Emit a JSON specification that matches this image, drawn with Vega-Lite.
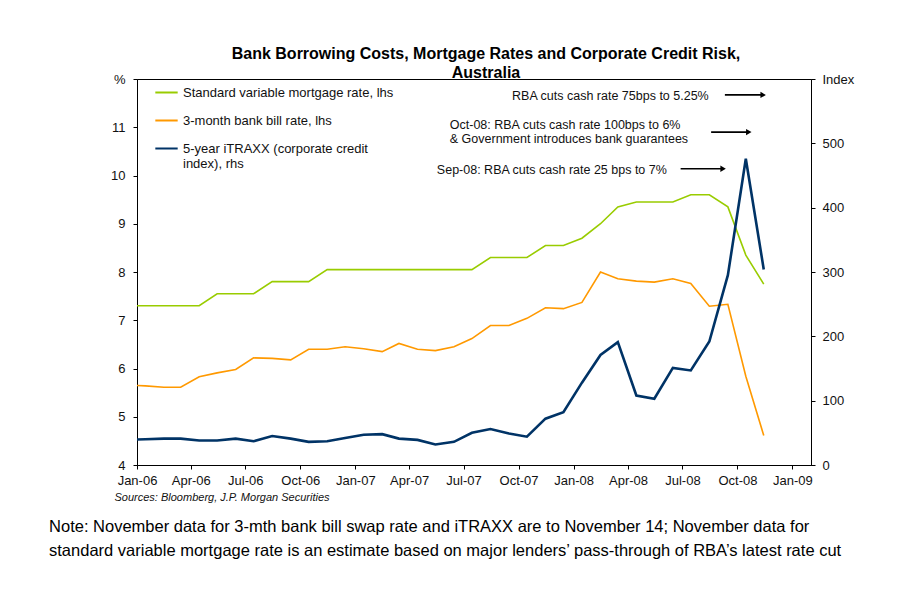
{
  "$schema": "https://vega.github.io/schema/vega-lite/v6.json",
  "padding": {"left": 49, "top": 45, "right": 40, "bottom": 5},
  "background": "white",
  "config": {
    "font": "Liberation Sans",
    "view": {"stroke": "#000", "strokeWidth": 1},
    "axis": {"grid": false, "domainColor": "#000", "tickColor": "#000", "labelColor": "#111", "labelFontSize": 13, "tickSize": 4, "labelFont": "Liberation Sans"}
  },
  "datasets": {
    "rates": [
      {"date": "2005/12/15", "svr": 7.30, "bill": 5.66, "itraxx": 39},
      {"date": "2006/01/15", "svr": 7.30, "bill": 5.64, "itraxx": 40},
      {"date": "2006/02/15", "svr": 7.30, "bill": 5.61, "itraxx": 41},
      {"date": "2006/03/15", "svr": 7.30, "bill": 5.61, "itraxx": 41},
      {"date": "2006/04/15", "svr": 7.30, "bill": 5.83, "itraxx": 38},
      {"date": "2006/05/15", "svr": 7.55, "bill": 5.91, "itraxx": 38},
      {"date": "2006/06/15", "svr": 7.55, "bill": 5.98, "itraxx": 41},
      {"date": "2006/07/15", "svr": 7.55, "bill": 6.22, "itraxx": 37},
      {"date": "2006/08/15", "svr": 7.80, "bill": 6.21, "itraxx": 45},
      {"date": "2006/09/15", "svr": 7.80, "bill": 6.18, "itraxx": 41},
      {"date": "2006/10/15", "svr": 7.80, "bill": 6.40, "itraxx": 36},
      {"date": "2006/11/15", "svr": 8.05, "bill": 6.40, "itraxx": 37},
      {"date": "2006/12/15", "svr": 8.05, "bill": 6.45, "itraxx": 42},
      {"date": "2007/01/15", "svr": 8.05, "bill": 6.41, "itraxx": 47},
      {"date": "2007/02/15", "svr": 8.05, "bill": 6.35, "itraxx": 48},
      {"date": "2007/03/15", "svr": 8.05, "bill": 6.52, "itraxx": 41},
      {"date": "2007/04/15", "svr": 8.05, "bill": 6.40, "itraxx": 39},
      {"date": "2007/05/15", "svr": 8.05, "bill": 6.37, "itraxx": 32},
      {"date": "2007/06/15", "svr": 8.05, "bill": 6.45, "itraxx": 36},
      {"date": "2007/07/15", "svr": 8.05, "bill": 6.62, "itraxx": 50},
      {"date": "2007/08/15", "svr": 8.30, "bill": 6.89, "itraxx": 56},
      {"date": "2007/09/15", "svr": 8.30, "bill": 6.89, "itraxx": 49},
      {"date": "2007/10/15", "svr": 8.30, "bill": 7.04, "itraxx": 44},
      {"date": "2007/11/15", "svr": 8.55, "bill": 7.26, "itraxx": 72},
      {"date": "2007/12/15", "svr": 8.55, "bill": 7.24, "itraxx": 82},
      {"date": "2008/01/15", "svr": 8.70, "bill": 7.37, "itraxx": 128},
      {"date": "2008/02/15", "svr": 9.00, "bill": 8.00, "itraxx": 171},
      {"date": "2008/03/15", "svr": 9.35, "bill": 7.86, "itraxx": 191},
      {"date": "2008/04/15", "svr": 9.45, "bill": 7.81, "itraxx": 108},
      {"date": "2008/05/15", "svr": 9.45, "bill": 7.79, "itraxx": 103},
      {"date": "2008/06/15", "svr": 9.45, "bill": 7.86, "itraxx": 151},
      {"date": "2008/07/15", "svr": 9.60, "bill": 7.76, "itraxx": 147},
      {"date": "2008/08/15", "svr": 9.60, "bill": 7.29, "itraxx": 192},
      {"date": "2008/09/15", "svr": 9.35, "bill": 7.33, "itraxx": 295},
      {"date": "2008/10/15", "svr": 8.35, "bill": 5.84, "itraxx": 476},
      {"date": "2008/11/14", "svr": 7.75, "bill": 4.61, "itraxx": 304}
    ],
    "notes": [
      {"id": "nov", "date": "2008/08/14", "level": 11.64, "text": "RBA cuts cash rate 75bps to 5.25%"},
      {"id": "oct", "date": "2007/06/08", "level": 11.05, "text": "Oct-08: RBA cuts cash rate 100bps to 6%\n& Government introduces bank guarantees"},
      {"id": "sep", "date": "2008/06/05", "level": 10.12, "text": "Sep-08: RBA cuts cash rate 25 bps to 7%"}
    ],
    "arrows": [
      {"start": "2008/09/10", "end": "2008/11/13", "level": 11.67},
      {"start": "2008/08/18", "end": "2008/10/20", "level": 10.90},
      {"start": "2008/06/28", "end": "2008/09/07", "level": 10.14}
    ]
  },
  "title": {
    "text": ["Note: November data for 3-mth bank bill swap rate and iTRAXX are to November 14; November data for", "standard variable mortgage rate is an estimate based on major lenders’ pass-through of RBA’s latest rate cut"],
    "orient": "bottom", "anchor": "start", "fontSize": 16.5, "fontWeight": "normal", "color": "#000",
    "font": "Liberation Sans", "lineHeight": 24, "offset": 16, "dx": -61
  },
  "vconcat": [
    {
      "width": 674,
      "height": 386,
      "title": {
        "text": ["Bank Borrowing Costs, Mortgage Rates and Corporate Credit Risk,", "Australia"],
        "fontSize": 16, "fontWeight": "bold", "anchor": "middle", "color": "#000",
        "lineHeight": 19, "offset": -8, "dx": 12, "font": "Liberation Sans"
      },
      "layer": [
        {
          "layer": [
            {
              "data": {"name": "rates"},
              "transform": [{"fold": ["svr", "bill"], "as": ["series", "value"]}],
              "mark": {"type": "line", "clip": true, "strokeWidth": 1.6},
              "encoding": {
                "x": {
                  "field": "date", "type": "temporal", "title": "Sources: Bloomberg, J.P. Morgan Securities",
                  "scale": {"domain": [{"year": 2006, "month": 1, "date": 1}, {"year": 2009, "month": 2, "date": 1}]},
                  "axis": {
                    "values": [
                      {"year": 2006, "month": 1, "date": 1}, {"year": 2006, "month": 4, "date": 1}, {"year": 2006, "month": 7, "date": 1}, {"year": 2006, "month": 10, "date": 1},
                      {"year": 2007, "month": 1, "date": 1}, {"year": 2007, "month": 4, "date": 1}, {"year": 2007, "month": 7, "date": 1}, {"year": 2007, "month": 10, "date": 1},
                      {"year": 2008, "month": 1, "date": 1}, {"year": 2008, "month": 4, "date": 1}, {"year": 2008, "month": 7, "date": 1}, {"year": 2008, "month": 10, "date": 1},
                      {"year": 2009, "month": 1, "date": 1}
                    ],
                    "format": "%b-%y", "labelPadding": 5, "labelFlush": false, "labelOverlap": false,
                    "titleFontStyle": "italic", "titleFontWeight": "normal", "titleFontSize": 11, "titleColor": "#111",
                    "titleAnchor": "start", "titleAlign": "left", "titleX": -23, "titleY": 26
                  }
                },
                "y": {
                  "field": "value", "type": "quantitative", "title": null,
                  "scale": {"domain": [4, 12], "nice": false, "zero": false},
                  "axis": {"values": [4, 5, 6, 7, 8, 9, 10, 11, 12], "labelExpr": "datum.value == 12 ? '%' : datum.label", "labelPadding": 8}
                },
                "color": {
                  "field": "series", "type": "nominal",
                  "scale": {"domain": ["svr", "bill", "itraxx"], "range": ["#99CC00", "#FF9900", "#003366"]},
                  "legend": {
                    "title": null, "orient": "none", "legendX": 17, "legendY": 1,
                    "symbolType": "stroke", "symbolSize": 500, "symbolStrokeWidth": 2,
                    "labelFontSize": 13, "labelColor": "#111", "rowPadding": 8, "labelOffset": 4,
                    "labelLimit": 400,
                    "labelExpr": "datum.value == 'svr' ? 'Standard variable mortgage rate, lhs' : datum.value == 'bill' ? '3-month bank bill rate, lhs' : ['5-year iTRAXX (corporate credit', 'index), rhs']"
                  }
                }
              }
            },
            {
              "data": {"name": "arrows"},
              "mark": {"type": "rule", "color": "#000", "strokeWidth": 1.6},
              "encoding": {
                "x": {"field": "start", "type": "temporal", "scale": {"domain": [{"year": 2006, "month": 1, "date": 1}, {"year": 2009, "month": 2, "date": 1}]}},
                "x2": {"field": "end"},
                "y": {"field": "level", "type": "quantitative", "title": null}
              }
            },
            {
              "data": {"name": "arrows"},
              "mark": {"type": "point", "shape": "triangle-right", "filled": true, "color": "#000", "size": 40, "opacity": 1},
              "encoding": {
                "x": {"field": "end", "type": "temporal", "scale": {"domain": [{"year": 2006, "month": 1, "date": 1}, {"year": 2009, "month": 2, "date": 1}]}},
                "y": {"field": "level", "type": "quantitative", "title": null}
              }
            },
            {
              "data": {"name": "notes"},
              "transform": [{"filter": "datum.id != 'oct'"}],
              "mark": {"type": "text", "align": "right", "baseline": "middle", "fontSize": 12.5, "color": "#111"},
              "encoding": {
                "x": {"field": "date", "type": "temporal", "scale": {"domain": [{"year": 2006, "month": 1, "date": 1}, {"year": 2009, "month": 2, "date": 1}]}},
                "y": {"field": "level", "type": "quantitative", "title": null},
                "text": {"field": "text"}
              }
            },
            {
              "data": {"name": "notes"},
              "transform": [{"filter": "datum.id == 'oct'"}],
              "mark": {"type": "text", "align": "left", "baseline": "middle", "fontSize": 12.5, "color": "#111", "lineBreak": "\n", "lineHeight": 14},
              "encoding": {
                "x": {"field": "date", "type": "temporal", "scale": {"domain": [{"year": 2006, "month": 1, "date": 1}, {"year": 2009, "month": 2, "date": 1}]}},
                "y": {"field": "level", "type": "quantitative", "title": null},
                "text": {"field": "text"}
              }
            }
          ]
        },
        {
          "data": {"name": "rates"},
          "transform": [{"fold": ["itraxx"], "as": ["series", "value"]}],
          "mark": {"type": "line", "clip": true, "strokeWidth": 2.6},
          "encoding": {
            "x": {"field": "date", "type": "temporal", "scale": {"domain": [{"year": 2006, "month": 1, "date": 1}, {"year": 2009, "month": 2, "date": 1}]}},
            "y": {
              "field": "value", "type": "quantitative", "title": null,
              "scale": {"domain": [0, 600], "nice": false},
              "axis": {"orient": "right", "values": [0, 100, 200, 300, 400, 500, 600], "labelExpr": "datum.value == 600 ? 'Index' : datum.label", "labelPadding": 7}
            },
            "color": {"field": "series", "type": "nominal"}
          }
        }
      ],
      "resolve": {"scale": {"y": "independent"}}
    }
  ]
}
